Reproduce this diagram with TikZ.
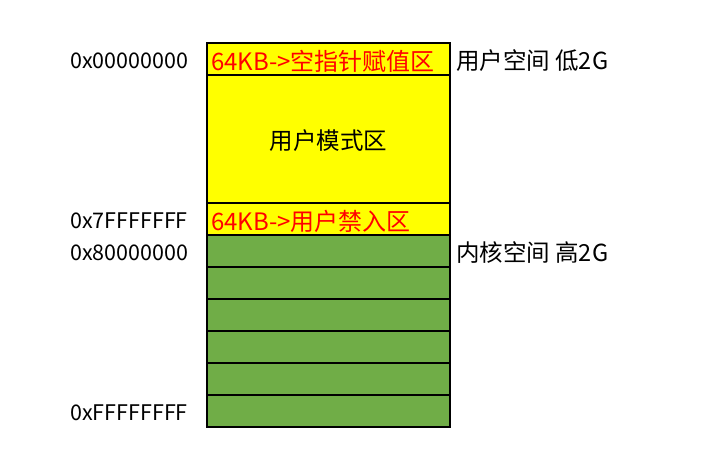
\documentclass[tikz,border=0pt]{standalone}
\usepackage{fontspec}
\setmainfont{Noto Sans CJK SC}
\definecolor{yel}{HTML}{FFFF00}
\definecolor{grn}{HTML}{70AD47}
\definecolor{red}{HTML}{FF0000}
\begin{document}
\begin{tikzpicture}[x=1pt,y=-1pt,
  cell/.style={draw=black,line width=2pt,minimum width=243pt,inner sep=0pt,outer sep=0pt},
  lbl/.style={inner sep=0pt,yshift=-2pt,font=\fontsize{21.5}{26}\selectfont},
  clbl/.style={inner sep=0pt,yshift=-2pt,font=\fontsize{23.5}{28}\selectfont},
  rlbl/.style={inner sep=0pt,yshift=-2pt,font=\fontsize{24}{28}\selectfont,text=red}]
\useasboundingbox (0,0) rectangle (710,472);
\node[cell,fill=yel,minimum height=32pt] (r1) at (328.5,59) {};
\node[cell,fill=yel,minimum height=128pt] (r2) at (328.5,139) {};
\node[cell,fill=yel,minimum height=32pt] (r3) at (328.5,219) {};
\node[cell,fill=grn,minimum height=32pt] (g1) at (328.5,251) {};
\node[cell,fill=grn,minimum height=32pt] (g2) at (328.5,283) {};
\node[cell,fill=grn,minimum height=32pt] (g3) at (328.5,315) {};
\node[cell,fill=grn,minimum height=32pt] (g4) at (328.5,347) {};
\node[cell,fill=grn,minimum height=32pt] (g5) at (328.5,379) {};
\node[cell,fill=grn,minimum height=32pt] (g6) at (328.5,411) {};
\node[rlbl,anchor=west] (t1) at ([xshift=4pt]r1.west) {64KB->空指针赋值区};
\node[clbl] (t2) at (r2.center) {用户模式区};
\node[rlbl,anchor=west] (t3) at ([xshift=4pt]r3.west) {64KB->用户禁入区};
\node[lbl,anchor=west] (a1) at (70,59) {0x00000000};
\node[lbl,anchor=west] (a2) at (70,219) {0x7FFFFFFF};
\node[lbl,anchor=west] (a3) at (70,251) {0x80000000};
\node[lbl,anchor=west] (a4) at (70,411) {0xFFFFFFFF};
\node[clbl,anchor=west] (s1) at ([xshift=6pt]r1.east) {用户空间 低2G};
\node[clbl,anchor=west] (s2) at ([xshift=6pt]g1.east) {内核空间 高2G};
\end{tikzpicture}
\end{document}
